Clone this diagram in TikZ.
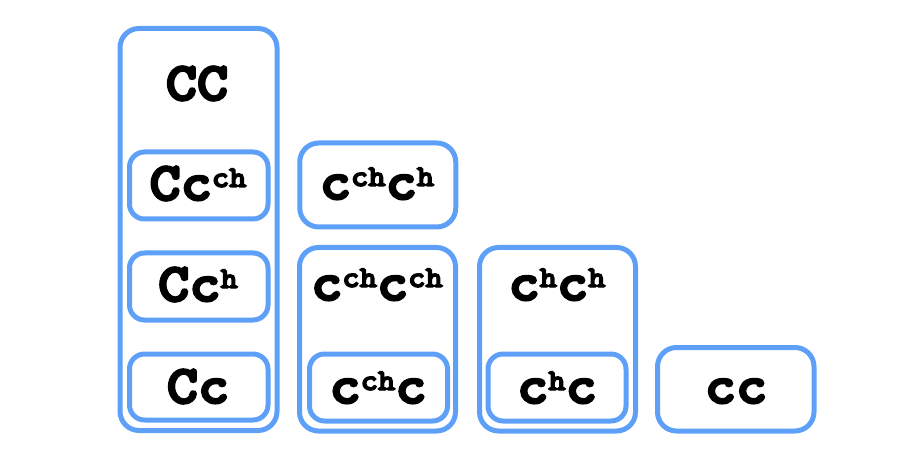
\documentclass[tikz,border=0pt]{standalone}
\usepackage{fontspec}
\newfontfamily\tyf{lmmonolt10-bold.otf}[FakeStretch=1.1,FakeBold=4.5]
\newcommand\sps[1]{\raisebox{13pt}{\fontsize{30}{30}\selectfont #1}}
\definecolor{boxblue}{RGB}{94,160,247}
\begin{document}
\begin{tikzpicture}[x=1pt,y=-1pt,
  bx/.style={draw=boxblue,line width=5pt,rounded corners=19pt,rectangle,inner sep=0pt},
  tx/.style={anchor=base,inner sep=0pt,font=\tyf\fontsize{54}{54}\selectfont}]
\useasboundingbox (0,0) rectangle (918,462);
% outer boxes
\node[bx,minimum width=157pt,minimum height=402pt] (A) at (198.5,229.5) {};
\node[bx,minimum width=156pt,minimum height=84pt] (B1) at (377.75,185) {};
\node[bx,minimum width=156pt,minimum height=183.5pt] (B) at (377.5,339.25) {};
\node[bx,minimum width=156pt,minimum height=183.5pt] (C) at (557.5,339.25) {};
\node[bx,minimum width=156.5pt,minimum height=83.5pt] (D) at (735.75,389.25) {};
% inner boxes
\node[bx,minimum width=138.5pt,minimum height=67pt,rounded corners=15pt] (A1) at (198.75,185.5) {};
\node[bx,minimum width=138.5pt,minimum height=67pt,rounded corners=15pt] (A2) at (198.75,286.5) {};
\node[bx,minimum width=138.5pt,minimum height=66pt,rounded corners=15pt] (A3) at (198.75,387) {};
\node[bx,minimum width=138pt,minimum height=67pt,rounded corners=15pt] (B2) at (378.5,387.5) {};
\node[bx,minimum width=138pt,minimum height=67pt,rounded corners=15pt] (C2) at (557,387.5) {};
% texts
\node[tx] (tA) at (197,100) {CC};
\node[tx] (tA1) at (198,200) {Cc\sps{ch}};
\node[tx] (tA2) at (198,301) {Cc\sps{h}};
\node[tx] (tA3) at (198,403) {Cc};
\node[tx] (tB1) at (377,199) {c\sps{ch}c\sps{h}};
\node[tx] (tB) at (377,300) {c\sps{ch}c\sps{ch}};
\node[tx] (tB2) at (378,403) {c\sps{ch}c};
\node[tx] (tC) at (557,300) {c\sps{h}c\sps{h}};
\node[tx] (tC2) at (557,403) {c\sps{h}c};
\node[tx] (tD) at (736,403) {cc};
\end{tikzpicture}
\end{document}
